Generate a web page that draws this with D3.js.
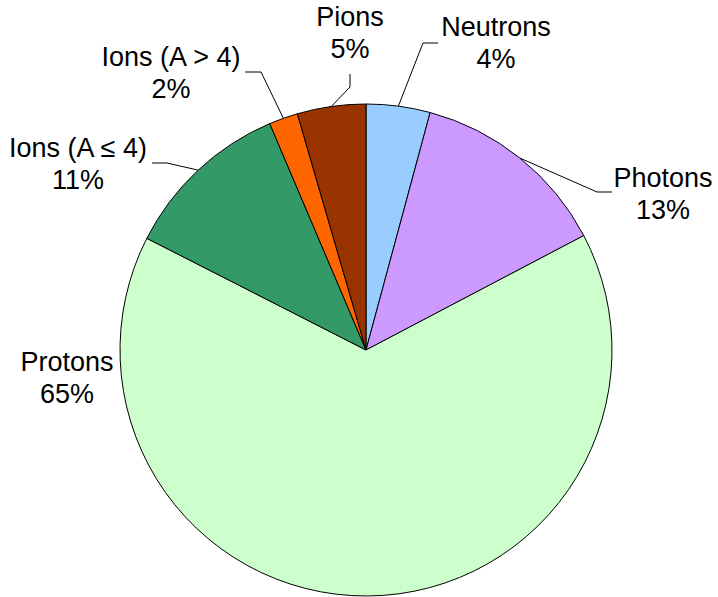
<!DOCTYPE html>
<html>
<head>
<meta charset="utf-8">
<script src="https://cdn.jsdelivr.net/npm/d3@7"></script>
<style>
  html, body { margin: 0; padding: 0; background: #fff; }
  svg { display: block; }
  .pie-label { font-family: "Liberation Sans", Arial, sans-serif; font-size: 27px; fill: #000; }
</style>
</head>
<body>
<div id="chart"></div>
<script>
// slice data, clockwise from 12 o'clock
const categories = ["Neutrons", "Photons", "Protons", "Ions (A \u2264 4)", "Ions (A > 4)", "Pions"];
const shares = [4.2, 13.1, 65.2, 11.1, 1.9, 4.5];
const shareLabels = ["4%", "13%", "65%", "11%", "2%", "5%"];
const colors = ["#99ccff", "#cc99ff", "#ccffcc", "#339966", "#ff6600", "#993300"];

// label placement: text centre, first baseline, leader elbow + end (null = no leader)
const labelLayout = [
  { x: 496, y: 36, elbow: [423, 43], end: [438, 43] },
  { x: 663, y: 187, elbow: [597, 192], end: [612, 192] },
  { x: 67, y: 371, elbow: null, end: null },
  { x: 78, y: 157, elbow: [167, 163], end: [152, 163] },
  { x: 171, y: 66, elbow: [261, 72], end: [245, 72] },
  { x: 350, y: 26, elbow: [350, 87], end: [350, 74] }
];

const width = 718, height = 597;
const cx = 366, cy = 350, radius = 246;
const lineGap = 32;

const data = categories.map((name, i) => ({
  name, value: shares[i], label: shareLabels[i], color: colors[i], layout: labelLayout[i]
}));

const svg = d3.select("#chart")
  .append("svg")
  .attr("width", width)
  .attr("height", height);

const g = svg.append("g").attr("transform", `translate(${cx},${cy})`);

const pie = d3.pie().value((d) => d.value).sort(null);
const arc = d3.arc().innerRadius(0).outerRadius(radius);
const edgeArc = d3.arc().innerRadius(radius).outerRadius(radius);

const arcs = pie(data);

g.selectAll("path.slice")
  .data(arcs)
  .join("path")
  .attr("class", "slice")
  .attr("d", arc)
  .attr("fill", (d) => d.data.color)
  .attr("stroke", "#000")
  .attr("stroke-width", 1)
  .attr("stroke-linejoin", "round");

// leader lines from slice edge midpoint
svg.selectAll("polyline.leader")
  .data(arcs.filter((d) => d.data.layout.elbow))
  .join("polyline")
  .attr("class", "leader")
  .attr("fill", "none")
  .attr("stroke", "#000")
  .attr("stroke-width", 1)
  .attr("points", (d) => {
    const [ex, ey] = edgeArc.centroid(d);
    const L = d.data.layout;
    return [[ex + cx, ey + cy], L.elbow, L.end].map((p) => p.join(",")).join(" ");
  });

const labels = svg.selectAll("text.pie-label")
  .data(data)
  .join("text")
  .attr("class", "pie-label")
  .attr("text-anchor", "middle")
  .attr("x", (d) => d.layout.x)
  .attr("y", (d) => d.layout.y);

labels.append("tspan")
  .attr("x", (d) => d.layout.x)
  .text((d) => d.name);

labels.append("tspan")
  .attr("x", (d) => d.layout.x)
  .attr("dy", lineGap)
  .text((d) => d.label);
</script>
</body>
</html>
